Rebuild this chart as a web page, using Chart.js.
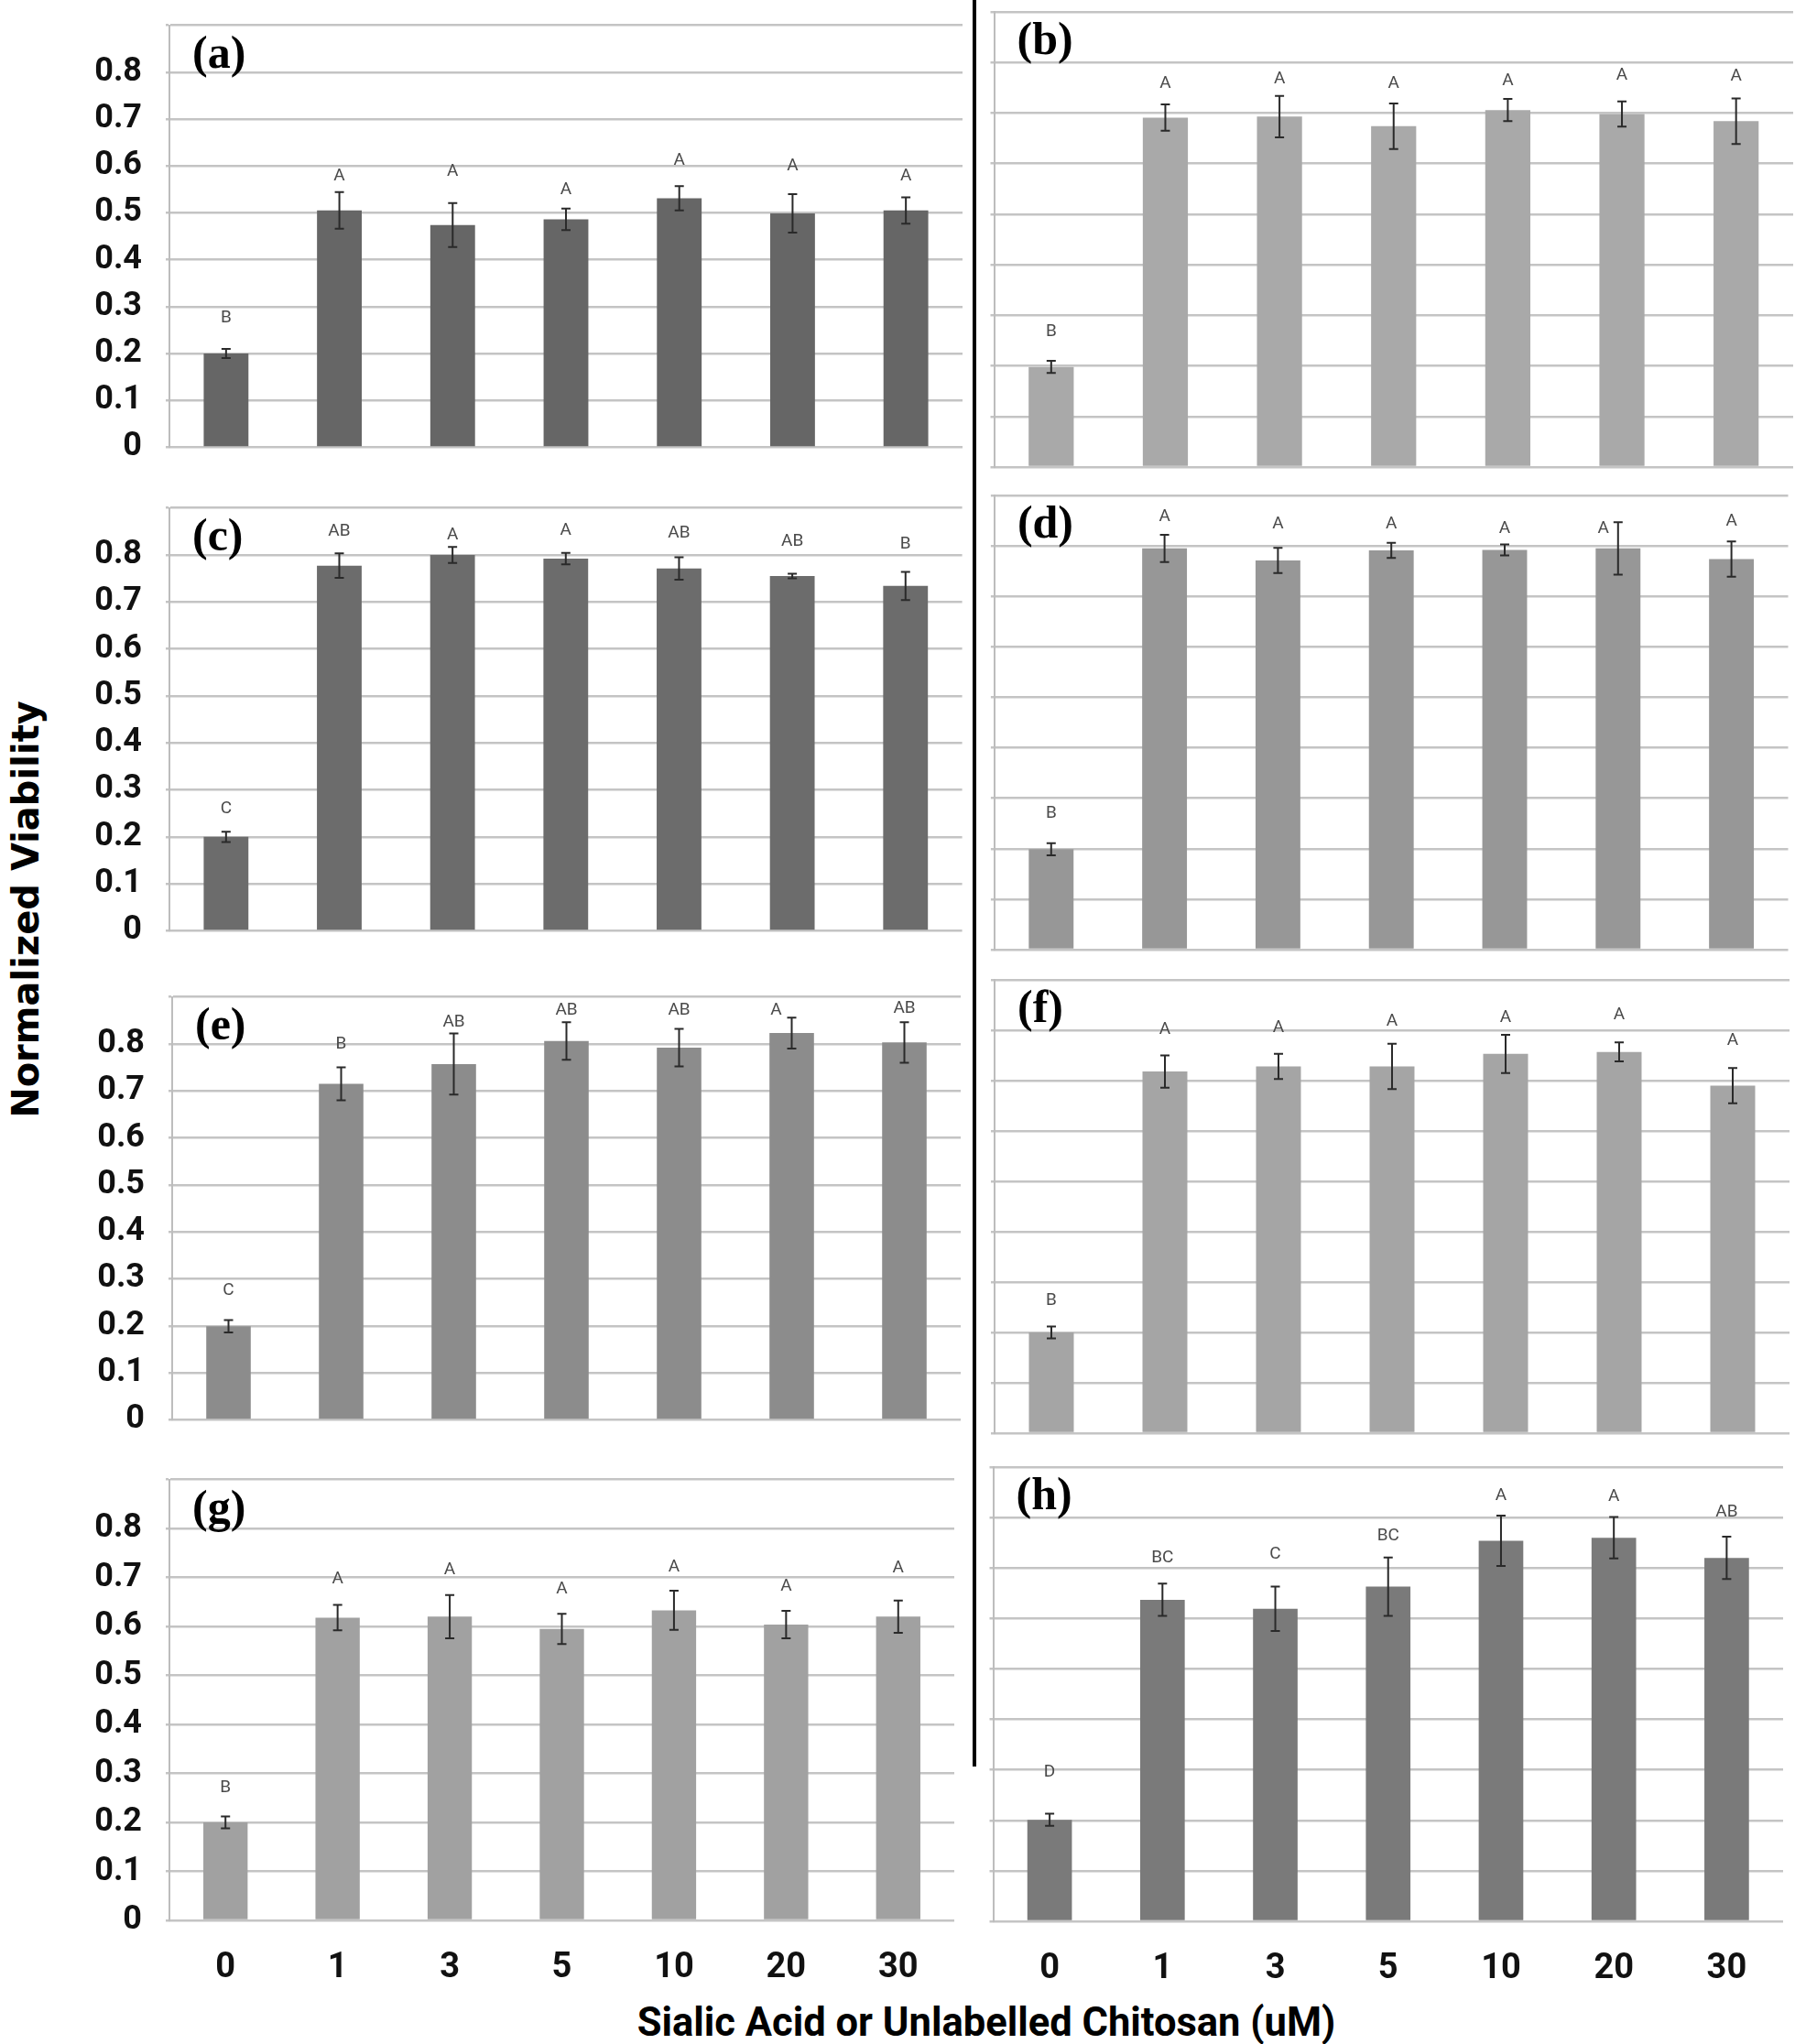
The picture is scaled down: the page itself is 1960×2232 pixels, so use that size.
<!DOCTYPE html>
<html>
<head>
<meta charset="utf-8">
<script src="https://cdn.jsdelivr.net/npm/chart.js@4.4.1/dist/chart.umd.min.js"></script>
<style>
  html, body { margin: 0; padding: 0; background: #ffffff; }
  body { width: 1960px; height: 2232px; position: relative; overflow: hidden; }
  canvas { position: absolute; }
  #divider { position: absolute; left: 1062px; top: 0; width: 4px; height: 1929px; background: #000; }
  #ytitle { position: absolute; left: 28px; top: 993px; transform: translate(-50%, -50%) rotate(-90deg);
            font: bold 40px "DejaVu Sans", Verdana, sans-serif; color: #000; white-space: nowrap; }
  #xtitle { position: absolute; left: 1077px; top: 2187px; transform: translateX(-50%);
            font: bold 43.5px Roboto, "Liberation Sans", sans-serif; color: #000; white-space: nowrap; line-height: 1; }
</style>
</head>
<body>
<div id="divider"></div>
<div id="ytitle">Normalized Viability</div>
<div id="xtitle">Sialic Acid or Unlabelled Chitosan (uM)</div>
<script>
// ---------------- data ----------------
const doses = ['0', '1', '3', '5', '10', '20', '30'];
const yTickLabels = ['0', '0.1', '0.2', '0.3', '0.4', '0.5', '0.6', '0.7', '0.8', ''];

const viabilityA = [0.200, 0.505, 0.474, 0.486, 0.531, 0.499, 0.505];
const errorA     = [0.010, 0.039, 0.047, 0.023, 0.026, 0.041, 0.028];
const lettersA   = ['B', 'A', 'A', 'A', 'A', 'A', 'A'];
const letterLevelA = [0.275, 0.578, 0.589, 0.549, 0.612, 0.600, 0.578];

const viabilityB = [0.198, 0.691, 0.693, 0.674, 0.706, 0.698, 0.684];
const errorB     = [0.012, 0.026, 0.041, 0.045, 0.022, 0.025, 0.045];
const lettersB   = ['B', 'A', 'A', 'A', 'A', 'A', 'A'];
const letterLevelB = [0.267, 0.759, 0.767, 0.759, 0.764, 0.774, 0.772];

const viabilityC = [0.200, 0.777, 0.800, 0.792, 0.771, 0.755, 0.734];
const errorC     = [0.011, 0.026, 0.017, 0.012, 0.024, 0.005, 0.030];
const lettersC   = ['C', 'AB', 'A', 'A', 'AB', 'AB', 'B'];
const letterLevelC = [0.260, 0.850, 0.843, 0.852, 0.847, 0.828, 0.822];

const viabilityD = [0.199, 0.795, 0.771, 0.791, 0.792, 0.795, 0.774];
const errorD     = [0.012, 0.027, 0.025, 0.015, 0.011, 0.052, 0.035];
const lettersD   = ['B', 'A', 'A', 'A', 'A', 'A', 'A'];
const letterLevelD = [0.270, 0.857, 0.843, 0.843, 0.835, 0.834, 0.849];

const viabilityE = [0.199, 0.715, 0.757, 0.806, 0.792, 0.823, 0.803];
const errorE     = [0.013, 0.035, 0.065, 0.040, 0.040, 0.033, 0.043];
const lettersE   = ['C', 'B', 'AB', 'AB', 'AB', 'A', 'AB'];
const letterLevelE = [0.275, 0.799, 0.847, 0.871, 0.871, 0.872, 0.876];

const viabilityF = [0.200, 0.718, 0.728, 0.728, 0.753, 0.757, 0.690];
const errorF     = [0.012, 0.032, 0.025, 0.045, 0.038, 0.019, 0.035];
const lettersF   = ['B', 'A', 'A', 'A', 'A', 'A', 'A'];
const letterLevelF = [0.263, 0.802, 0.805, 0.817, 0.825, 0.830, 0.780];

const viabilityG = [0.200, 0.618, 0.620, 0.595, 0.633, 0.604, 0.620];
const errorG     = [0.012, 0.026, 0.044, 0.031, 0.040, 0.028, 0.033];
const lettersG   = ['B', 'A', 'A', 'A', 'A', 'A', 'A'];
const letterLevelG = [0.271, 0.696, 0.716, 0.676, 0.722, 0.681, 0.719];

const viabilityH = [0.201, 0.637, 0.619, 0.663, 0.754, 0.760, 0.720];
const errorH     = [0.012, 0.032, 0.044, 0.058, 0.050, 0.041, 0.042];
const lettersH   = ['D', 'BC', 'C', 'BC', 'A', 'A', 'AB'];
const letterLevelH = [0.296, 0.720, 0.727, 0.763, 0.844, 0.841, 0.811];

// ---------------- layout / style ----------------
const panels = [
  { tag: '(a)', values: viabilityA, errors: errorA, letters: lettersA, levels: letterLevelA, color: '#666666',
    side: 'L', plot: { left: 185, right: 1051, top: 10.3, bottom: 506.3 }, showX: false },
  { tag: '(b)', values: viabilityB, errors: errorB, letters: lettersB, levels: letterLevelB, color: '#a9a9a9',
    side: 'R', plot: { left: 1085.5, right: 1958, top: 12.6, bottom: 509.7 }, showX: false },
  { tag: '(c)', values: viabilityC, errors: errorC, letters: lettersC, levels: letterLevelC, color: '#6c6c6c',
    side: 'L', plot: { left: 185, right: 1050.6, top: 536.8, bottom: 1033.6 }, showX: false },
  { tag: '(d)', values: viabilityD, errors: errorD, letters: lettersD, levels: letterLevelD, color: '#979797',
    side: 'R', plot: { left: 1085.9, right: 1952.5, top: 540.8, bottom: 1037 }, showX: false, shift: { 5: -16 } },
  { tag: '(e)', values: viabilityE, errors: errorE, letters: lettersE, levels: letterLevelE, color: '#8c8c8c',
    side: 'L', plot: { left: 188, right: 1049, top: 1071, bottom: 1568 }, showX: false, shift: { 5: -17 } },
  { tag: '(f)', values: viabilityF, errors: errorF, letters: lettersF, levels: letterLevelF, color: '#a5a5a5',
    side: 'R', plot: { left: 1086, right: 1954, top: 1069.6, bottom: 1564.6 }, showX: false },
  { tag: '(g)', values: viabilityG, errors: errorG, letters: lettersG, levels: letterLevelG, color: '#a1a1a1',
    side: 'L', plot: { left: 185, right: 1042, top: 1598.2, bottom: 2097.7 }, showX: true },
  { tag: '(h)', values: viabilityH, errors: errorH, letters: lettersH, levels: letterLevelH, color: '#7a7a7a',
    side: 'R', plot: { left: 1084.5, right: 1947, top: 1601.5, bottom: 2097.7 }, showX: true }
];

const TOP_PAD = 30;
const GRID_COLOR = '#c4c4c4';

function overlayPlugin(p) {
  return {
    id: 'overlay',
    afterDatasetsDraw(chart) {
      const ctx = chart.ctx;
      const y = chart.scales.y;
      const meta = chart.getDatasetMeta(0);
      ctx.save();
      meta.data.forEach((bar, i) => {
        const v = p.values[i], e = p.errors[i];
        const x = bar.x;
        const yt = y.getPixelForValue(v + e);
        const yb = y.getPixelForValue(v - e);
        ctx.strokeStyle = '#2a2a2a';
        ctx.lineWidth = 2;
        ctx.beginPath();
        ctx.moveTo(x, yt); ctx.lineTo(x, yb);
        ctx.moveTo(x - 5, yt); ctx.lineTo(x + 5, yt);
        ctx.moveTo(x - 5, yb); ctx.lineTo(x + 5, yb);
        ctx.stroke();
        const dx = (p.shift && p.shift[i]) ? p.shift[i] : 0;
        ctx.fillStyle = '#4a4a4a';
        ctx.font = '19px Roboto, "Liberation Sans", sans-serif';
        ctx.textAlign = 'center';
        ctx.textBaseline = 'middle';
        ctx.fillText(p.letters[i], x + dx, y.getPixelForValue(p.levels[i]));
      });
      ctx.fillStyle = '#000';
      ctx.font = 'bold 50px "Liberation Serif", "Times New Roman", serif';
      ctx.textAlign = 'left';
      ctx.textBaseline = 'alphabetic';
      ctx.fillText(p.tag, chart.chartArea.left + 25, chart.chartArea.top + 46);
      ctx.restore();
    }
  };
}

panels.forEach((p) => {
  const canvasLeft = p.side === 'L' ? 0 : 1068;
  const canvasWidth = p.side === 'L' ? 1062 : 892;
  const xAxisH = p.showX ? 90 : 30;
  const canvasTop = p.plot.top - TOP_PAD;
  const canvasHeight = (p.plot.bottom + xAxisH) - canvasTop;
  const yAxisW = p.plot.left - canvasLeft;
  const rightPad = canvasLeft + canvasWidth - p.plot.right;

  const cv = document.createElement('canvas');
  cv.width = canvasWidth;
  cv.height = Math.round(canvasHeight);
  cv.style.left = canvasLeft + 'px';
  cv.style.top = canvasTop + 'px';
  document.body.appendChild(cv);

  new Chart(cv.getContext('2d'), {
    type: 'bar',
    data: {
      labels: doses,
      datasets: [{
        data: p.values,
        backgroundColor: p.color,
        borderWidth: 0,
        barPercentage: 0.395,
        categoryPercentage: 1.0
      }]
    },
    options: {
      responsive: false,
      animation: false,
      devicePixelRatio: 1,
      layout: { padding: { left: 0, right: rightPad, top: TOP_PAD, bottom: 0 } },
      plugins: { legend: { display: false }, tooltip: { enabled: false }, title: { display: false } },
      scales: {
        x: {
          type: 'category',
          offset: true,
          grid: { display: false, drawTicks: false },
          border: { display: false },
          ticks: {
            display: p.showX,
            autoSkip: false,
            maxRotation: 0,
            padding: 30,
            color: '#111',
            font: { family: 'Roboto, "Liberation Sans", sans-serif', size: 38, weight: 'bold' }
          },
          afterFit: (s) => { s.height = xAxisH; }
        },
        y: {
          min: 0,
          max: 0.9,
          grid: { color: GRID_COLOR, lineWidth: 2.5, drawTicks: true, tickLength: 4 },
          border: { display: true, color: '#bdbdbd', width: 2 },
          ticks: {
            stepSize: 0.1,
            display: p.side === 'L',
            padding: 26,
            color: '#111',
            font: { family: 'Roboto, "Liberation Sans", sans-serif', size: 36, weight: 'bold' },
            callback: (v, i) => yTickLabels[i]
          },
          afterFit: (s) => { s.width = yAxisW; }
        }
      }
    },
    plugins: [overlayPlugin(p)]
  });
});
</script>
</body>
</html>
